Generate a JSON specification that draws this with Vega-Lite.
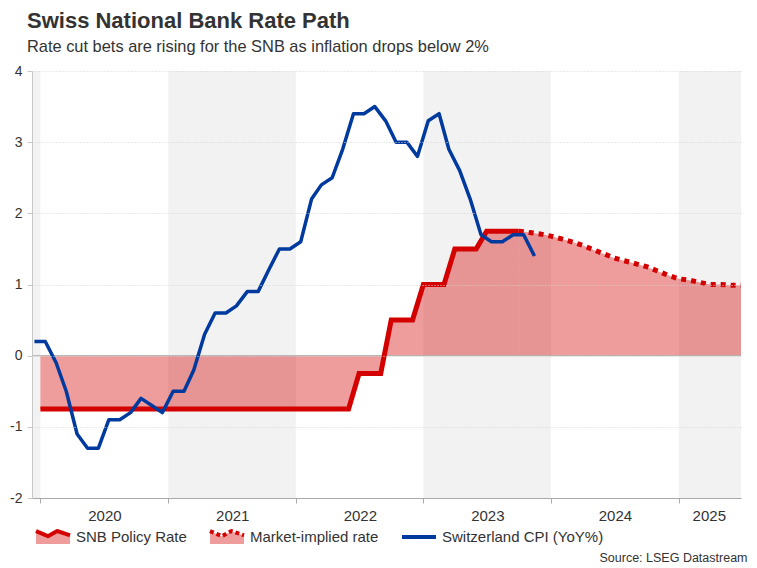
{
  "$schema": "https://vega.github.io/schema/vega-lite/v6.json",
  "width": 709,
  "height": 427,
  "autosize": {"type": "none"},
  "padding": {"left": 32, "top": 71, "right": 16, "bottom": 70},
  "background": "white",
  "config": {
    "font": "Liberation Sans",
    "view": {"stroke": null}
  },
  "title": {
    "text": "Swiss National Bank Rate Path",
    "subtitle": "Rate cut bets are rising for the SNB as inflation drops below 2%",
    "anchor": "start",
    "frame": "group",
    "dx": -5,
    "offset": 8,
    "fontSize": 22,
    "fontWeight": "bold",
    "color": "#333333",
    "subtitleFontSize": 16.4,
    "subtitleColor": "#333333",
    "subtitlePadding": 6
  },
  "datasets": {
    "rates": [
      {"d": "2020-01-01", "s": "SNB Policy Rate", "v": -0.75},
      {"d": "2020-02-01", "s": "SNB Policy Rate", "v": -0.75},
      {"d": "2020-03-01", "s": "SNB Policy Rate", "v": -0.75},
      {"d": "2020-04-01", "s": "SNB Policy Rate", "v": -0.75},
      {"d": "2020-05-01", "s": "SNB Policy Rate", "v": -0.75},
      {"d": "2020-06-01", "s": "SNB Policy Rate", "v": -0.75},
      {"d": "2020-07-01", "s": "SNB Policy Rate", "v": -0.75},
      {"d": "2020-08-01", "s": "SNB Policy Rate", "v": -0.75},
      {"d": "2020-09-01", "s": "SNB Policy Rate", "v": -0.75},
      {"d": "2020-10-01", "s": "SNB Policy Rate", "v": -0.75},
      {"d": "2020-11-01", "s": "SNB Policy Rate", "v": -0.75},
      {"d": "2020-12-01", "s": "SNB Policy Rate", "v": -0.75},
      {"d": "2021-01-01", "s": "SNB Policy Rate", "v": -0.75},
      {"d": "2021-02-01", "s": "SNB Policy Rate", "v": -0.75},
      {"d": "2021-03-01", "s": "SNB Policy Rate", "v": -0.75},
      {"d": "2021-04-01", "s": "SNB Policy Rate", "v": -0.75},
      {"d": "2021-05-01", "s": "SNB Policy Rate", "v": -0.75},
      {"d": "2021-06-01", "s": "SNB Policy Rate", "v": -0.75},
      {"d": "2021-07-01", "s": "SNB Policy Rate", "v": -0.75},
      {"d": "2021-08-01", "s": "SNB Policy Rate", "v": -0.75},
      {"d": "2021-09-01", "s": "SNB Policy Rate", "v": -0.75},
      {"d": "2021-10-01", "s": "SNB Policy Rate", "v": -0.75},
      {"d": "2021-11-01", "s": "SNB Policy Rate", "v": -0.75},
      {"d": "2021-12-01", "s": "SNB Policy Rate", "v": -0.75},
      {"d": "2022-01-01", "s": "SNB Policy Rate", "v": -0.75},
      {"d": "2022-02-01", "s": "SNB Policy Rate", "v": -0.75},
      {"d": "2022-03-01", "s": "SNB Policy Rate", "v": -0.75},
      {"d": "2022-04-01", "s": "SNB Policy Rate", "v": -0.75},
      {"d": "2022-05-01", "s": "SNB Policy Rate", "v": -0.75},
      {"d": "2022-06-01", "s": "SNB Policy Rate", "v": -0.75},
      {"d": "2022-07-01", "s": "SNB Policy Rate", "v": -0.25},
      {"d": "2022-08-01", "s": "SNB Policy Rate", "v": -0.25},
      {"d": "2022-09-01", "s": "SNB Policy Rate", "v": -0.25},
      {"d": "2022-10-01", "s": "SNB Policy Rate", "v": 0.5},
      {"d": "2022-11-01", "s": "SNB Policy Rate", "v": 0.5},
      {"d": "2022-12-01", "s": "SNB Policy Rate", "v": 0.5},
      {"d": "2023-01-01", "s": "SNB Policy Rate", "v": 1.0},
      {"d": "2023-02-01", "s": "SNB Policy Rate", "v": 1.0},
      {"d": "2023-03-01", "s": "SNB Policy Rate", "v": 1.0},
      {"d": "2023-04-01", "s": "SNB Policy Rate", "v": 1.5},
      {"d": "2023-05-01", "s": "SNB Policy Rate", "v": 1.5},
      {"d": "2023-06-01", "s": "SNB Policy Rate", "v": 1.5},
      {"d": "2023-07-01", "s": "SNB Policy Rate", "v": 1.75},
      {"d": "2023-08-01", "s": "SNB Policy Rate", "v": 1.75},
      {"d": "2023-09-01", "s": "SNB Policy Rate", "v": 1.75},
      {"d": "2023-10-01", "s": "SNB Policy Rate", "v": 1.75},
      {"d": "2023-10-01", "s": "Market-implied rate", "v": 1.75},
      {"d": "2023-11-01", "s": "Market-implied rate", "v": 1.73},
      {"d": "2023-12-01", "s": "Market-implied rate", "v": 1.71},
      {"d": "2024-01-01", "s": "Market-implied rate", "v": 1.68},
      {"d": "2024-02-01", "s": "Market-implied rate", "v": 1.64},
      {"d": "2024-03-01", "s": "Market-implied rate", "v": 1.6},
      {"d": "2024-04-01", "s": "Market-implied rate", "v": 1.55},
      {"d": "2024-05-01", "s": "Market-implied rate", "v": 1.49},
      {"d": "2024-06-01", "s": "Market-implied rate", "v": 1.43},
      {"d": "2024-07-01", "s": "Market-implied rate", "v": 1.37},
      {"d": "2024-08-01", "s": "Market-implied rate", "v": 1.33},
      {"d": "2024-09-01", "s": "Market-implied rate", "v": 1.29},
      {"d": "2024-10-01", "s": "Market-implied rate", "v": 1.25},
      {"d": "2024-11-01", "s": "Market-implied rate", "v": 1.19},
      {"d": "2024-12-01", "s": "Market-implied rate", "v": 1.13},
      {"d": "2025-01-01", "s": "Market-implied rate", "v": 1.08},
      {"d": "2025-02-01", "s": "Market-implied rate", "v": 1.06},
      {"d": "2025-03-01", "s": "Market-implied rate", "v": 1.03},
      {"d": "2025-04-01", "s": "Market-implied rate", "v": 1.0},
      {"d": "2025-05-01", "s": "Market-implied rate", "v": 1.0},
      {"d": "2025-06-01", "s": "Market-implied rate", "v": 0.99},
      {"d": "2025-07-01", "s": "Market-implied rate", "v": 0.99},
      {"d": "2019-12-15", "s": "Switzerland CPI (YoY%)", "v": 0.2},
      {"d": "2020-01-15", "s": "Switzerland CPI (YoY%)", "v": 0.2},
      {"d": "2020-02-15", "s": "Switzerland CPI (YoY%)", "v": -0.1},
      {"d": "2020-03-15", "s": "Switzerland CPI (YoY%)", "v": -0.5},
      {"d": "2020-04-15", "s": "Switzerland CPI (YoY%)", "v": -1.1},
      {"d": "2020-05-15", "s": "Switzerland CPI (YoY%)", "v": -1.3},
      {"d": "2020-06-15", "s": "Switzerland CPI (YoY%)", "v": -1.3},
      {"d": "2020-07-15", "s": "Switzerland CPI (YoY%)", "v": -0.9},
      {"d": "2020-08-15", "s": "Switzerland CPI (YoY%)", "v": -0.9},
      {"d": "2020-09-15", "s": "Switzerland CPI (YoY%)", "v": -0.8},
      {"d": "2020-10-15", "s": "Switzerland CPI (YoY%)", "v": -0.6},
      {"d": "2020-11-15", "s": "Switzerland CPI (YoY%)", "v": -0.7},
      {"d": "2020-12-15", "s": "Switzerland CPI (YoY%)", "v": -0.8},
      {"d": "2021-01-15", "s": "Switzerland CPI (YoY%)", "v": -0.5},
      {"d": "2021-02-15", "s": "Switzerland CPI (YoY%)", "v": -0.5},
      {"d": "2021-03-15", "s": "Switzerland CPI (YoY%)", "v": -0.2},
      {"d": "2021-04-15", "s": "Switzerland CPI (YoY%)", "v": 0.3},
      {"d": "2021-05-15", "s": "Switzerland CPI (YoY%)", "v": 0.6},
      {"d": "2021-06-15", "s": "Switzerland CPI (YoY%)", "v": 0.6},
      {"d": "2021-07-15", "s": "Switzerland CPI (YoY%)", "v": 0.7},
      {"d": "2021-08-15", "s": "Switzerland CPI (YoY%)", "v": 0.9},
      {"d": "2021-09-15", "s": "Switzerland CPI (YoY%)", "v": 0.9},
      {"d": "2021-10-15", "s": "Switzerland CPI (YoY%)", "v": 1.2},
      {"d": "2021-11-15", "s": "Switzerland CPI (YoY%)", "v": 1.5},
      {"d": "2021-12-15", "s": "Switzerland CPI (YoY%)", "v": 1.5},
      {"d": "2022-01-15", "s": "Switzerland CPI (YoY%)", "v": 1.6},
      {"d": "2022-02-15", "s": "Switzerland CPI (YoY%)", "v": 2.2},
      {"d": "2022-03-15", "s": "Switzerland CPI (YoY%)", "v": 2.4},
      {"d": "2022-04-15", "s": "Switzerland CPI (YoY%)", "v": 2.5},
      {"d": "2022-05-15", "s": "Switzerland CPI (YoY%)", "v": 2.9},
      {"d": "2022-06-15", "s": "Switzerland CPI (YoY%)", "v": 3.4},
      {"d": "2022-07-15", "s": "Switzerland CPI (YoY%)", "v": 3.4},
      {"d": "2022-08-15", "s": "Switzerland CPI (YoY%)", "v": 3.5},
      {"d": "2022-09-15", "s": "Switzerland CPI (YoY%)", "v": 3.3},
      {"d": "2022-10-15", "s": "Switzerland CPI (YoY%)", "v": 3.0},
      {"d": "2022-11-15", "s": "Switzerland CPI (YoY%)", "v": 3.0},
      {"d": "2022-12-15", "s": "Switzerland CPI (YoY%)", "v": 2.8},
      {"d": "2023-01-15", "s": "Switzerland CPI (YoY%)", "v": 3.3},
      {"d": "2023-02-15", "s": "Switzerland CPI (YoY%)", "v": 3.4},
      {"d": "2023-03-15", "s": "Switzerland CPI (YoY%)", "v": 2.9},
      {"d": "2023-04-15", "s": "Switzerland CPI (YoY%)", "v": 2.6},
      {"d": "2023-05-15", "s": "Switzerland CPI (YoY%)", "v": 2.2},
      {"d": "2023-06-15", "s": "Switzerland CPI (YoY%)", "v": 1.7},
      {"d": "2023-07-15", "s": "Switzerland CPI (YoY%)", "v": 1.6},
      {"d": "2023-08-15", "s": "Switzerland CPI (YoY%)", "v": 1.6},
      {"d": "2023-09-15", "s": "Switzerland CPI (YoY%)", "v": 1.7},
      {"d": "2023-10-15", "s": "Switzerland CPI (YoY%)", "v": 1.7},
      {"d": "2023-11-15", "s": "Switzerland CPI (YoY%)", "v": 1.4}
    ],
    "bands": [
      {"start": "2019-12-01", "end": "2020-01-01"},
      {"start": "2021-01-01", "end": "2022-01-01"},
      {"start": "2023-01-01", "end": "2024-01-01"},
      {"start": "2025-01-01", "end": "2025-12-31"}
    ]
  },
  "layer": [
    {
      "data": {"name": "bands"},
      "mark": {"type": "rect", "color": "#f2f2f2", "clip": true},
      "encoding": {
        "x": {
          "field": "start",
          "type": "temporal",
          "title": "Source: LSEG Datastream",
          "scale": {"type": "utc", "domain": [1575763200000, 1751068800000], "nice": false},
          "axis": {
            "values": [1577836800000, 1609459200000, 1640995200000, 1672531200000, 1704067200000, 1735689600000],
            "labelExpr": "utcFormat(datum.value, '%Y')",
            "labelOffset": {"condition": {"test": "datum.value >= 1735689600000", "value": 30}, "value": 64},
            "labelFlush": false,
            "labelOverlap": false,
            "labelBound": false,
            "labelFontSize": 15,
            "labelColor": "#333333",
            "labelPadding": 5,
            "tickSize": 5,
            "tickColor": "#aaaaaa",
            "domainColor": "#aaaaaa",
            "grid": false,
            "zindex": 1,
            "titleX": 715,
            "titleY": 63,
            "titleAlign": "right",
            "titleBaseline": "alphabetic",
            "titleFontSize": 12.5,
            "titleFontWeight": "normal",
            "titleColor": "#333333"
          }
        },
        "x2": {"field": "end"}
      }
    },
    {
      "data": {"name": "rates"},
      "transform": [{"filter": {"field": "s", "oneOf": ["SNB Policy Rate", "Market-implied rate"]}}],
      "mark": {"type": "area", "clip": true},
      "encoding": {
        "x": {"field": "d", "type": "temporal", "title": "Source: LSEG Datastream", "scale": {"type": "utc", "domain": [1575763200000, 1751068800000], "nice": false}},
        "y": {
          "field": "v",
          "type": "quantitative",
          "title": null,
          "stack": null,
          "scale": {"domain": [-2, 4], "nice": false},
          "axis": {
            "values": [-2, -1, 0, 1, 2, 3, 4],
            "labelExpr": "'' + datum.value",
            "grid": true,
            "gridDash": [1, 2],
            "gridColor": "#d4d4d4",
            "domainColor": "#c8c8c8",
            "tickColor": "#c8c8c8",
            "tickSize": 5,
            "labelPadding": 5,
            "labelFontSize": 14,
            "labelColor": "#333333",
            "zindex": 1
          }
        },
        "fill": {
          "field": "s",
          "type": "nominal",
          "scale": {"domain": ["SNB Policy Rate", "Market-implied rate"], "range": ["rgba(212,0,0,0.39)", "rgba(212,0,0,0.39)"]},
          "legend": {
            "orient": "none",
            "legendX": 2,
            "legendY": 447,
            "direction": "horizontal",
            "title": null,
            "padding": 0,
            "symbolType": "M-1,-0.35L-0.3,-0.05L0.25,-0.35L1,-0.1L1,0.4L-1,0.4Z",
            "symbolSize": 1156,
            "symbolStrokeWidth": 4,
            "symbolStrokeColor": "transparent",
            "labelOpacity": 0,
            "labelFontSize": 15,
            "labelOffset": 4,
            "labelLimit": 300,
            "columnPadding": 15
          }
        }
      }
    },
    {
      "data": {"values": [{"z": 0}]},
      "mark": {"type": "rule", "color": "#b0b0b0", "strokeWidth": 1},
      "encoding": {
        "y": {"field": "z", "type": "quantitative", "title": null, "scale": {"domain": [-2, 4], "nice": false}}
      }
    },
    {
      "data": {"name": "rates"},
      "transform": [{"filter": {"field": "s", "equal": "SNB Policy Rate"}}],
      "mark": {"type": "line", "strokeWidth": 5, "clip": true},
      "encoding": {
        "x": {"field": "d", "type": "temporal", "title": "Source: LSEG Datastream", "scale": {"type": "utc", "domain": [1575763200000, 1751068800000], "nice": false}},
        "y": {"field": "v", "type": "quantitative", "title": null, "scale": {"domain": [-2, 4], "nice": false}},
        "stroke": {
          "field": "s",
          "type": "nominal",
          "scale": {"domain": ["SNB Policy Rate", "Market-implied rate", "Switzerland CPI (YoY%)"], "range": ["#d40000", "#d40000", "#003a9e"]},
          "legend": {
            "orient": "none",
            "legendX": 2,
            "legendY": 447,
            "direction": "horizontal",
            "title": null,
            "padding": 0,
            "symbolType": {"expr": "datum.value === 'Switzerland CPI (YoY%)' ? 'M-1,0L1,0' : 'M-1,-0.35L-0.3,-0.05L0.25,-0.35L1,-0.1'"},
            "symbolDash": {"expr": "datum.value === 'Market-implied rate' ? [4,3] : [1,0]"},
            "symbolFillColor": "transparent",
            "symbolSize": 1156,
            "symbolStrokeWidth": 4,
            "labelFontSize": 15,
            "labelColor": "#333333",
            "labelOffset": 4,
            "labelLimit": 300,
            "columnPadding": 15
          }
        }
      }
    },
    {
      "data": {"name": "rates"},
      "transform": [{"filter": {"field": "s", "equal": "Market-implied rate"}}],
      "mark": {"type": "line", "strokeWidth": 5, "strokeDash": [5, 5], "clip": true},
      "encoding": {
        "x": {"field": "d", "type": "temporal", "title": "Source: LSEG Datastream", "scale": {"type": "utc", "domain": [1575763200000, 1751068800000], "nice": false}},
        "y": {"field": "v", "type": "quantitative", "title": null, "scale": {"domain": [-2, 4], "nice": false}},
        "stroke": {
          "field": "s",
          "type": "nominal",
          "scale": {"domain": ["SNB Policy Rate", "Market-implied rate", "Switzerland CPI (YoY%)"], "range": ["#d40000", "#d40000", "#003a9e"]},
          "legend": null
        }
      }
    },
    {
      "data": {"name": "rates"},
      "transform": [{"filter": {"field": "s", "equal": "Switzerland CPI (YoY%)"}}],
      "mark": {"type": "line", "strokeWidth": 3.5, "strokeJoin": "round", "clip": true},
      "encoding": {
        "x": {"field": "d", "type": "temporal", "title": "Source: LSEG Datastream", "scale": {"type": "utc", "domain": [1575763200000, 1751068800000], "nice": false}},
        "y": {"field": "v", "type": "quantitative", "title": null, "scale": {"domain": [-2, 4], "nice": false}},
        "stroke": {
          "field": "s",
          "type": "nominal",
          "scale": {"domain": ["SNB Policy Rate", "Market-implied rate", "Switzerland CPI (YoY%)"], "range": ["#d40000", "#d40000", "#003a9e"]},
          "legend": null
        }
      }
    }
  ]
}
